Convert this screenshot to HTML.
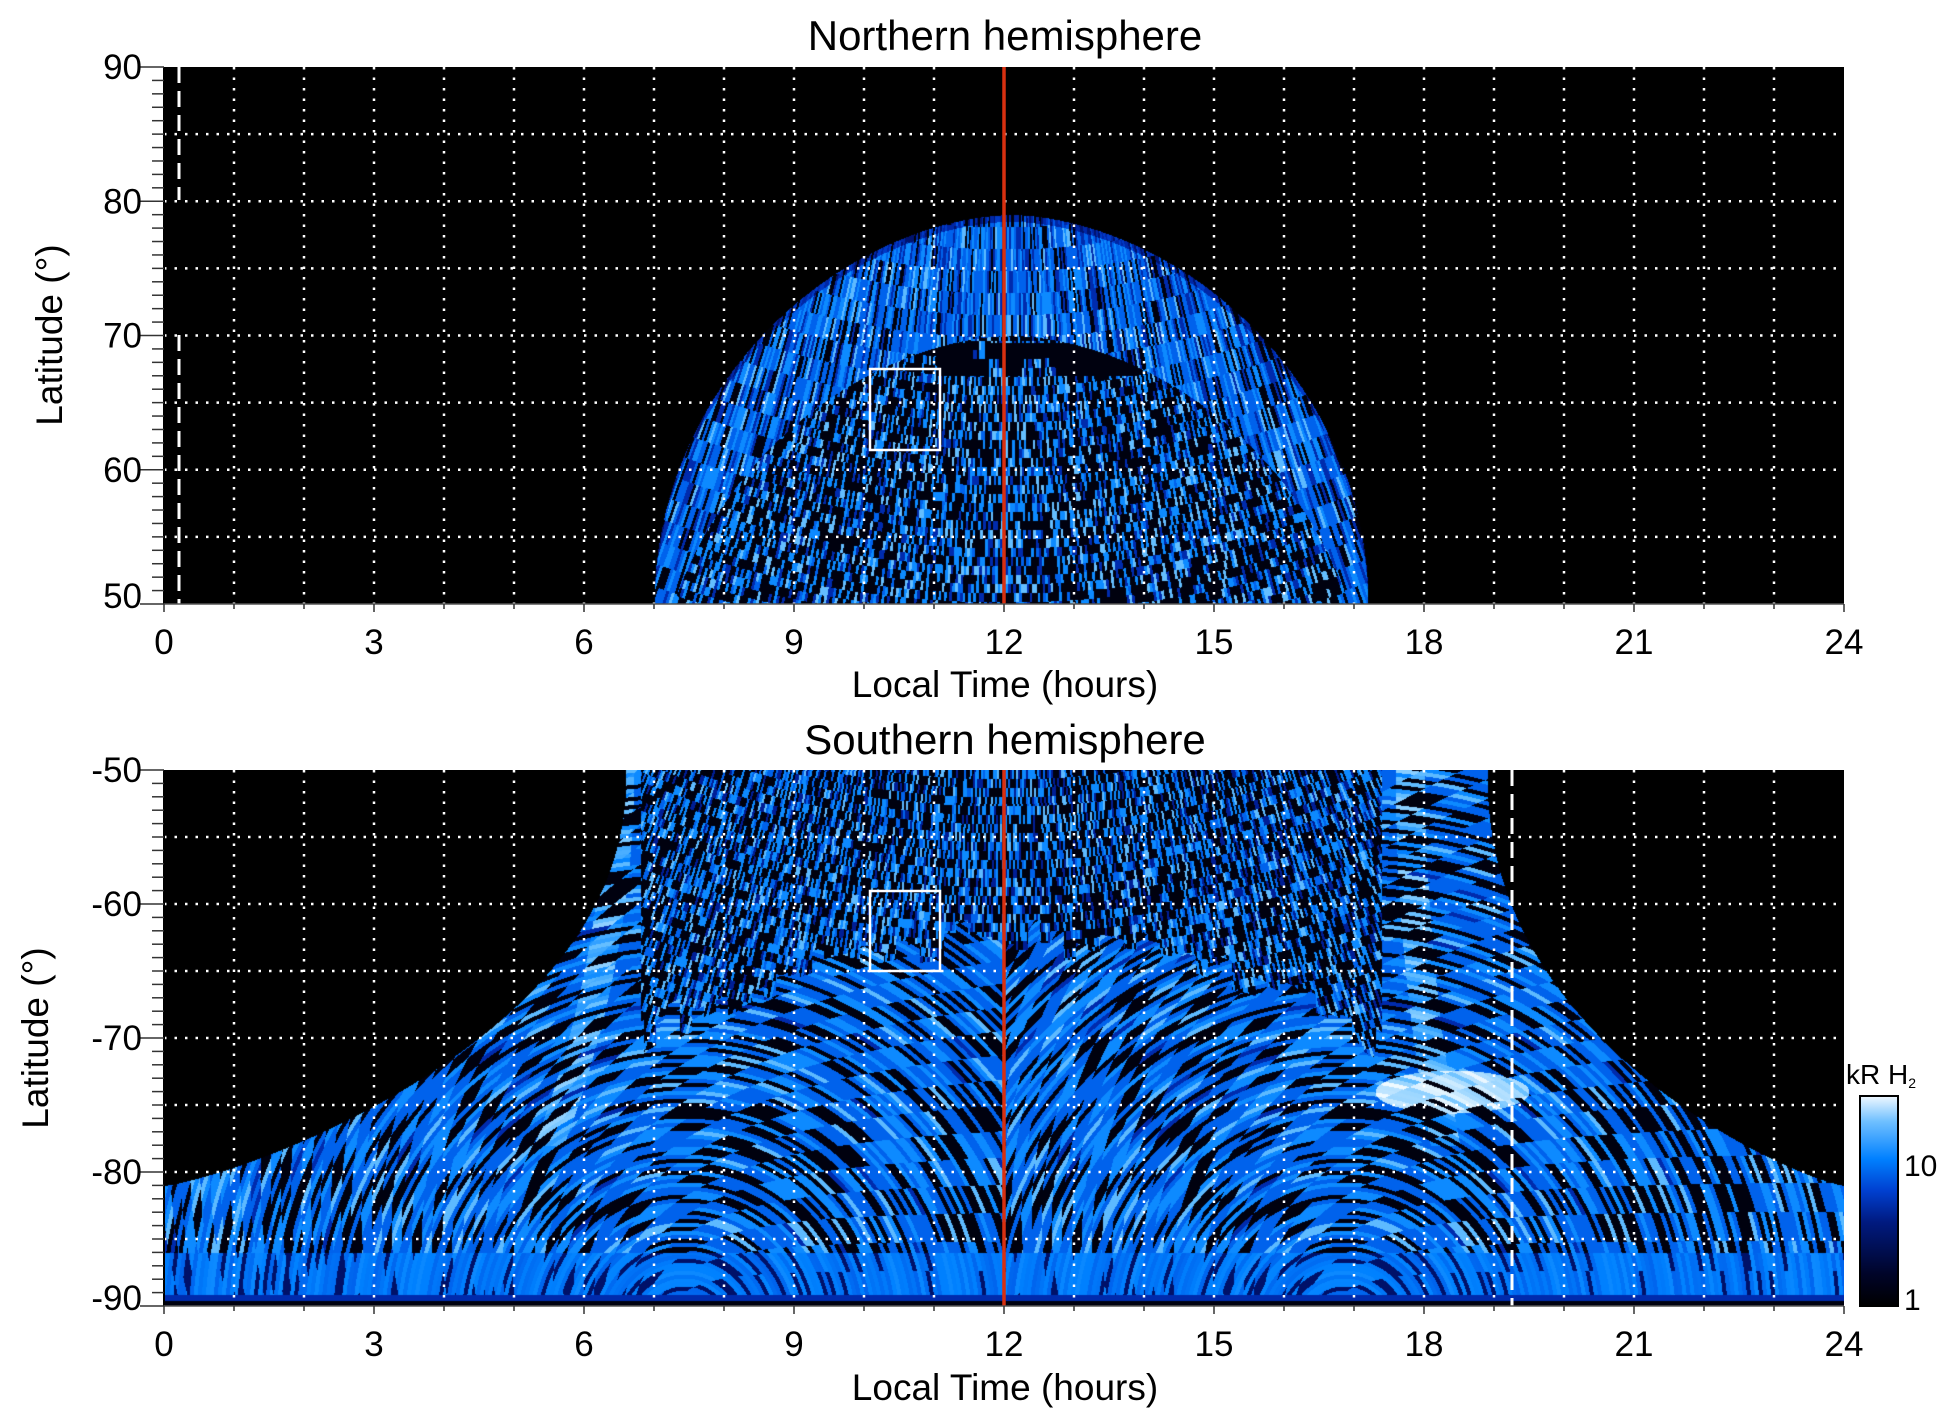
<!DOCTYPE html>
<html><head><meta charset="utf-8">
<style>
html,body{margin:0;padding:0;background:#fff;}
body{width:1950px;height:1423px;position:relative;overflow:hidden;font-family:"Liberation Sans",sans-serif;}
canvas{position:absolute;}
svg{position:absolute;left:0;top:0;}
</style></head><body>
<canvas id="cn" style="left:164px;top:67px" width="1680" height="537"></canvas>
<canvas id="cs" style="left:164px;top:770px" width="1680" height="536"></canvas>
<svg id="ov" width="1950" height="1423" xmlns="http://www.w3.org/2000/svg" font-family="Liberation Sans, sans-serif">
<defs><linearGradient id="cb" x1="0" y1="1" x2="0" y2="0">
<stop offset="0" stop-color="#000"/><stop offset="0.15" stop-color="#000428"/><stop offset="0.4" stop-color="#001a80"/><stop offset="0.55" stop-color="#0040d0"/><stop offset="0.7" stop-color="#0080ff"/><stop offset="0.88" stop-color="#70c0ff"/><stop offset="1" stop-color="#f0f8ff"/></linearGradient></defs>
<g id="g"></g>
<text x="1005" y="50" font-size="42" text-anchor="middle">Northern hemisphere</text>
<text x="1005" y="754" font-size="42" text-anchor="middle">Southern hemisphere</text>
<text x="1005" y="697" font-size="37" text-anchor="middle">Local Time (hours)</text>
<text x="1005" y="1400" font-size="37" text-anchor="middle">Local Time (hours)</text>
<text transform="translate(62,335) rotate(-90)" font-size="37" text-anchor="middle">Latitude (°)</text>
<text transform="translate(48,1038) rotate(-90)" font-size="37" text-anchor="middle">Latitude (°)</text>
<rect x="1860" y="1096" width="38" height="210" fill="url(#cb)" stroke="#000" stroke-width="2"/>
<text x="1904" y="1176" font-size="30">10</text>
<text x="1904" y="1310" font-size="30">1</text>
<text x="1846" y="1084" font-size="28">kR H<tspan font-size="14" dy="4">2</tspan></text>
</svg>
<script>
var NS="http://www.w3.org/2000/svg",g=document.getElementById('g');
function el(t,a){var e=document.createElementNS(NS,t);for(var k in a)e.setAttribute(k,a[k]);g.appendChild(e);return e;}
function txt(x,y,s,anc,fs){var e=el('text',{x:x,y:y,'font-size':fs||35,'text-anchor':anc});e.textContent=s;}
var X0=164,X1=1844;function xt(t){return X0+70*t;}
function hash(a,b){var h=(a*374761393+b*668265263)|0;h=(h^(h>>>13))*1274126177|0;h=h^(h>>>16);return (h>>>0)/4294967296;}
var CM=[[0,0,0,0],[0.2,0,5,60],[0.4,0,30,150],[0.55,0,70,220],[0.7,0,130,255],[0.85,100,190,255],[1,240,250,255]];
function cmap(v){v=Math.max(0,Math.min(1,v));for(var i=1;i<CM.length;i++){if(v<=CM[i][0]){var a=CM[i-1],b=CM[i],f=(v-a[0])/(b[0]-a[0]);return [a[1]+f*(b[1]-a[1]),a[2]+f*(b[2]-a[2]),a[3]+f*(b[3]-a[3])];}}return [240,250,255];}
function pick(r){if(r<0.2)return 0.05;if(r<0.35)return 0.45;if(r<0.7)return 0.62;if(r<0.92)return 0.72;return 0.84;}
// North
(function(){var cv=document.getElementById('cn'),c=cv.getContext('2d'),W=1680,Hh=537,im=c.createImageData(W,Hh),d=im.data;
var H=537/40;
function top(t){var u=(t-12.1)/5.1;if(Math.abs(u)>=1)return -1;return 50+29*Math.pow(1-Math.pow(Math.abs(u),1.8),0.5);}
for(var y=0;y<Hh;y++)for(var x=0;x<W;x++){var t=x/70,lat=90-y/H,tp=top(t),k=(y*W+x)*4;d[k+3]=255;if(lat>tp)continue;
var dx=x-841,dy=y+500,r=Math.sqrt(dx*dx+dy*dy),an=Math.atan2(dx,dy);
var dd=tp-lat;
var ci=Math.floor(an*1000/2.6),cj=Math.floor(r/(dd<9?22:9));
var rr=hash(ci,cj),v=pick(rr);
if(dd>=9){if(rr<0.55)v=0.05;else if(rr<0.65)v=0.45;else if(rr>0.9)v=0.85;
 if(Math.abs(t-12.3)<1.6&&lat>67&&lat<69.5&&hash(ci>>3,cj>>2)<0.8)v=0.05;}
if(dd<0.5)v*=0.7;
var col=cmap(v);d[k]=col[0];d[k+1]=col[1];d[k+2]=col[2];}
c.putImageData(im,0,0);})();
// South
(function(){var cv=document.getElementById('cs'),c=cv.getContext('2d'),W=1680,Hh=536,im=c.createImageData(W,Hh),d=im.data;
var H=536/40;
function lb(lat){var p=(-lat-50)/31;if(p>=1)return 0;return 6.6*Math.pow(1-Math.pow(p,2.2),0.8);}
function rb(lat){var p=(-lat-50)/31;if(p>=1)return 24;return 24-5.1*Math.pow(1-Math.pow(p,2.2),0.8);}
for(var y=0;y<Hh;y++)for(var x=0;x<W;x++){var t=x/70,lat=-50-y/H,k=(y*W+x)*4;d[k+3]=255;
if(t<lb(lat)||t>rb(lat))continue;
var ci,cj,v,rr;
var thr=-64-10*Math.pow(Math.abs(t-12)/6,2)+3*hash(Math.floor(x/12),7);
if(lat>thr&&t>6.8&&t<17.4){var dx=x-840,dy=y+900,r=Math.sqrt(dx*dx+dy*dy),an=Math.atan2(dx,dy);ci=Math.floor(an*1400/3);cj=Math.floor(r/9);rr=hash(ci,cj);
v=rr<0.5?0.05:(rr<0.6?0.4:pick(rr));}
else{var cx=t<12?520:1180,cy=560,dx=x-cx,dy=y-cy,r=Math.sqrt(dx*dx+dy*dy),an=Math.atan2(dy,dx);ci=Math.floor(r/4);cj=Math.floor(an*r/30);rr=hash(ci,cj);v=pick(rr);
if(rr<0.33)v=0.05;}
var c1=6.5-Math.pow((-50-lat)/25,2)*0.8,c2=17.8+Math.pow((-50-lat)/25,2)*0.4;
var band=(lat>-78)?Math.exp(-Math.pow((t-c1)/0.22,2))+Math.exp(-Math.pow((t-c2)/0.22,2)):0;
if(band>0.4&&rr>0.35)v=Math.max(v,0.68+0.22*hash(ci+7,cj));
var ex=(t-18.4)/1.1,ey=(lat+74)/1.6;if(ex*ex+ey*ey<1&&rr>0.2)v=0.8+0.2*rr;
if(lat<-86)v=rr<0.15?0.3:0.62+0.1*hash(ci,3);
if(y>Hh-6)v=0.05;else if(y>Hh-12)v=0.45;
var col=cmap(v);d[k]=col[0];d[k+1]=col[1];d[k+2]=col[2];}
c.putImageData(im,0,0);})();
function panel(y0,y1,lat0,lat1,labs,dash){
var H=(y1-y0)/(lat1-lat0);function yl(l){return y0+(lat1-l)*H;}
for(var h=1;h<24;h++)el('line',{x1:xt(h),y1:y0,x2:xt(h),y2:y1,stroke:'#fff','stroke-width':2.5,'stroke-dasharray':'2.5 8'});
for(var l=Math.ceil(lat0/5)*5;l<=lat1;l+=5){if(l==lat0||l==lat1)continue;el('line',{x1:X0,y1:yl(l),x2:X1,y2:yl(l),stroke:'#fff','stroke-width':2.5,'stroke-dasharray':'2.5 8'});}
dash();
el('line',{x1:xt(12),y1:y0,x2:xt(12),y2:y1,stroke:'#d83010','stroke-width':3.5});
el('line',{x1:X0,y1:y0,x2:X0,y2:y1,stroke:'#000','stroke-width':2});
el('line',{x1:X0,y1:y1,x2:X1,y2:y1,stroke:'#555','stroke-width':1.5});
for(var l=Math.ceil(lat0);l<=lat1;l++){var mj=(l%10==0);el('line',{x1:X0-(mj?24:12),y1:yl(l),x2:X0,y2:yl(l),stroke:'#333','stroke-width':1.5});}
for(var h=0;h<=24;h++)el('line',{x1:xt(h),y1:y1,x2:xt(h),y2:y1+(h%3==0?8:5),stroke:'#333','stroke-width':1.5});
for(var h=0;h<=24;h+=3)txt(xt(h),y1+50,''+h,'middle');
labs.forEach(function(l){txt(X0-22,yl(l)+12-(l==lat0?8:0),''+l,'end');});}
panel(67,604,50,90,[50,60,70,80,90],function(){
el('line',{x1:179,y1:67,x2:179,y2:200,stroke:'#fff','stroke-width':3,'stroke-dasharray':'16 8'});
el('line',{x1:179,y1:335,x2:179,y2:604,stroke:'#fff','stroke-width':3,'stroke-dasharray':'16 8'});
el('rect',{x:870,y:369,width:70,height:81,fill:'none',stroke:'#fff','stroke-width':2.5});});
panel(770,1306,-90,-50,[-90,-80,-70,-60,-50],function(){
el('line',{x1:1512,y1:770,x2:1512,y2:1306,stroke:'#fff','stroke-width':3,'stroke-dasharray':'16 8'});
el('rect',{x:870,y:891,width:70,height:80,fill:'none',stroke:'#fff','stroke-width':2.5});});
</script>
</body></html>
